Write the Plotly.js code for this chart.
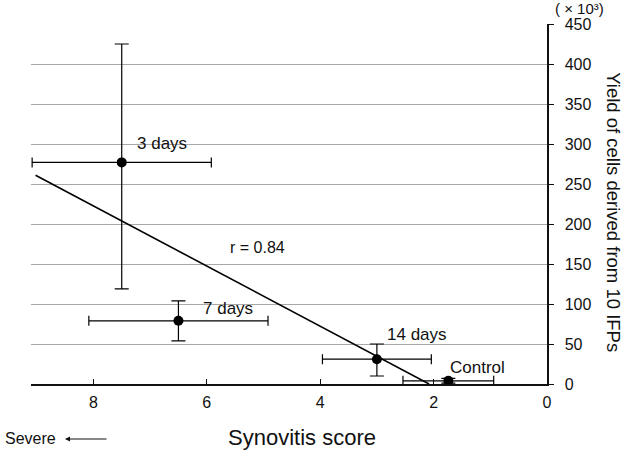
<!DOCTYPE html>
<html>
<head>
<meta charset="utf-8">
<script src="https://cdn.plot.ly/plotly-3.0.1.min.js"></script>
<style>html,body{margin:0;padding:0;background:#fff;}#chart{width:623px;height:453px;}</style>
</head>
<body>
<div id="chart"></div>
<script>
// Groups
const groups = ["3 days", "7 days", "14 days", "Control"];
// Synovitis score (mean) and its error
const score = [7.5, 6.5, 3.0, 1.74];
const scoreErr = [1.58, 1.58, 0.96, 0.8];
// Yield of cells (x10^3) and its error
const yieldVals = [277, 79, 31, 4];
const yieldErrPlus = [148, 25, 19, 3];
const yieldErrMinus = [158, 25, 21, 3];
// Regression line endpoints
const fitX = [9.02, 2.08];
const fitY = [261, 0];
const rText = "r = 0.84";
// Axis ticks
const xTicks = [8, 6, 4, 2, 0];
const yTicks = [0, 50, 100, 150, 200, 250, 300, 350, 400, 450];

// label positions (data coords) for group labels
const labelX = [6.79, 5.62, 2.29, 1.23];
const labelY = [301, 95, 62.5, 21];

const font = "Liberation Sans, Arial, sans-serif";

const traces = [
  {
    x: fitX, y: fitY, mode: "lines", type: "scatter",
    line: {color: "#000", width: 1.6}, hoverinfo: "skip"
  },
  {
    x: score, y: yieldVals, mode: "markers", type: "scatter",
    marker: {color: "#000", size: 10},
    error_x: {type: "data", array: scoreErr, visible: true, color: "#000", thickness: 1.2, width: 5},
    error_y: {type: "data", symmetric: false, array: yieldErrPlus, arrayminus: yieldErrMinus, visible: true, color: "#000", thickness: 1.2, width: 7}
  }
];

const L = 31, R = 546.7, T = 24, B = 384;
const W = R - L, H = B - T;
const px = v => (v - L) / W;
const py = v => (B - v) / H;

const annotations = groups.map((g, i) => ({
  x: labelX[i], y: labelY[i], xref: "x", yref: "y", text: g, showarrow: false,
  xanchor: "center", yanchor: "middle",
  font: {family: font, size: 17, color: "#111"}
}));
annotations.push({x: 5.11, y: 170.6, xref: "x", yref: "y", text: rText, showarrow: false,
  xanchor: "center", yanchor: "middle",
  font: {family: font, size: 16, color: "#111"}});
annotations.push({x: px(613), y: py(212.5), xref: "paper", yref: "paper", text: "Yield of cells derived from 10 IFPs",
  xanchor: "center", yanchor: "middle",
  textangle: 90, showarrow: false, font: {family: font, size: 18.5, color: "#111"}});
annotations.push({x: px(579), y: py(9), xref: "paper", yref: "paper", text: "( × 10³)",
  xanchor: "center", yanchor: "middle",
  showarrow: false, font: {family: font, size: 15, color: "#111"}});
annotations.push({x: px(302), y: py(438), xref: "paper", yref: "paper", text: "Synovitis score",
  xanchor: "center", yanchor: "middle",
  showarrow: false, font: {family: font, size: 22, color: "#111"}});
annotations.push({x: px(3), y: py(439), xref: "paper", yref: "paper", xanchor: "left", yanchor: "middle", text: "Severe",
  showarrow: false, font: {family: font, size: 16, color: "#111"}});
annotations.push({x: px(65), y: py(439), xref: "paper", yref: "paper", text: "",
  showarrow: true, ax: 43, ay: 0, arrowhead: 2, arrowsize: 1, arrowwidth: 1, arrowcolor: "#111"});

const layout = {
  width: 623, height: 453,
  margin: {l: L, r: 623 - R, t: T, b: 453 - B, pad: 0},
  paper_bgcolor: "#fff", plot_bgcolor: "#fff",
  showlegend: false,
  font: {family: font, color: "#111"},
  xaxis: {
    range: [9.1, 0], tickvals: xTicks, ticktext: xTicks.map(String),
    showgrid: false, zeroline: false, showline: true, linecolor: "#111", linewidth: 2,
    ticks: "inside", ticklen: 5, tickcolor: "#111", tickwidth: 1,
    ticklabelstandoff: 3,
    tickfont: {family: font, size: 16, color: "#111"}
  },
  yaxis: {
    range: [0, 450], tickvals: yTicks,
    side: "right", showgrid: true, gridcolor: "#a8a8a8", gridwidth: 1,
    zeroline: false, showline: true, linecolor: "#111", linewidth: 1.5,
    ticks: "outside", ticklen: 5, tickcolor: "#111",
    ticklabelstandoff: 8,
    tickfont: {family: font, size: 16, color: "#111"}
  },
  annotations: annotations
};

Plotly.newPlot("chart", traces, layout, {displayModeBar: false, staticPlot: true});
</script>
</body>
</html>
